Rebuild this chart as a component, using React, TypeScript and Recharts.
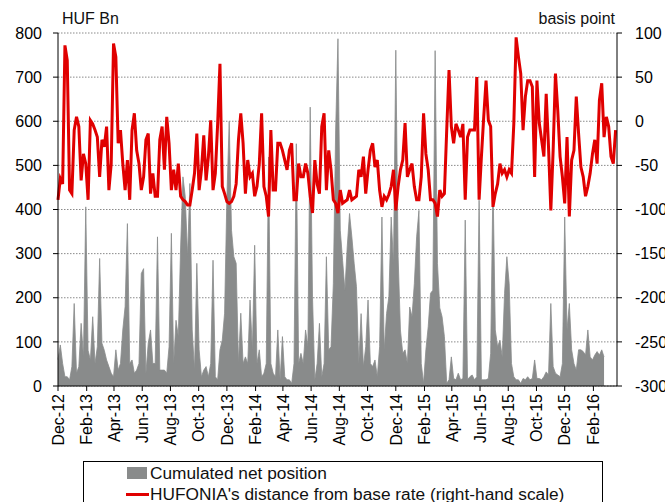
import React from 'react';
import { ComposedChart, Area, Line, XAxis, YAxis, CartesianGrid } from 'recharts';

// Observation spacing (days) starting 1 Dec 2012
const START_YEAR = 2012;
const START_MONTH = 11;
const STEP_DAYS = 5;

// Cumulated net position (HUF Bn)
const netPosition: number[] = [
  60, 93, 51, 21, 21, 14, 44, 187, 29, 44,
  142, 66, 406, 81, 59, 157, 51, 89, 289, 97,
  81, 59, 44, 29, 21, 82, 36, 51, 127, 180,
  368, 51, 59, 29, 36, 51, 255, 266, 29, 97,
  127, 51, 51, 338, 36, 36, 36, 29, 89, 346,
  51, 149, 112, 315, 474, 429, 293, 459, 127, 36,
  278, 82, 21, 36, 44, 21, 51, 285, 21, 14,
  82, 104, 165, 429, 600, 353, 293, 278, 51, 165,
  51, 66, 51, 195, 82, 319, 51, 82, 21, 29,
  51, 519, 51, 29, 21, 127, 14, 112, 21, 14,
  14, 6, 51, 549, 51, 74, 51, 127, 89, 632,
  202, 14, 51, 142, 21, 51, 293, 82, 89, 232,
  580, 787, 353, 285, 217, 315, 391, 338, 278, 225,
  51, 164, 44, 89, 195, 51, 44, 59, 21, 89,
  383, 82, 164, 202, 383, 278, 761, 293, 127, 74,
  82, 51, 179, 157, 232, 338, 398, 51, 6, 82,
  134, 210, 217, 760, 278, 177, 157, 112, 6, 14,
  66, 17, 14, 29, 14, 17, 376, 14, 21, 25,
  14, 21, 421, 14, 14, 14, 17, 74, 466, 127,
  89, 104, 66, 210, 293, 232, 51, 21, 14, 14,
  6, 17, 14, 21, 14, 17, 59, 17, 17, 14,
  21, 32, 25, 187, 44, 29, 25, 21, 51, 383,
  127, 187, 82, 51, 36, 82, 82, 78, 70, 127,
  66, 59, 70, 78, 70, 82, 66,
];

// HUFONIA's distance from base rate (basis points, right-hand scale)
const hufoniaSpread: number[] = [
  -89, -65, -71, 86, 69, -78, -82, -10, 5, -6,
  -67, -37, -48, -89, 1, -3, -10, -18, -63, -21,
  -29, -6, -78, -48, 88, 73, -25, -10, -48, -78,
  -44, -89, -10, 9, -33, -48, -78, -63, -21, -14,
  -82, -59, -85, -85, -21, -6, -55, 5, -25, -78,
  -55, -78, -48, -85, -89, -91, -95, -95, -78, -59,
  -14, -78, -55, -16, -67, -40, 1, -78, -59, -3,
  65, -74, -82, -91, -93, -91, -85, -71, -21, 9,
  -25, -82, -44, -63, -59, -85, -74, -48, 9, -74,
  -85, -108, -10, -78, -78, -25, -25, -33, -44, -55,
  -33, -25, -89, -89, -48, -63, -63, -48, -59, -85,
  -104, -44, -71, -82, -6, 9, -78, -33, -55, -89,
  -93, -104, -78, -93, -91, -89, -78, -89, -87, -85,
  -55, -63, -40, -82, -55, -33, -25, -52, -44, -78,
  -97, -85, -89, -83, -74, -55, -101, -74, -55, -44,
  -2, -63, -55, -48, -74, -89, -89, -63, 9, -37,
  -55, -89, -89, -93, -108, -78, -85, -82, -10, 58,
  -6, -25, -3, -10, -18, -3, -89, -18, -10, -10,
  -10, 50, -89, -40, 5, 46, 1, -6, -97, -82,
  -71, -48, -59, -55, -63, -55, -59, -3, 95, 73,
  54, -10, 28, 46, 46, 39, -63, 46, -2, -21,
  -40, 31, -29, -101, -33, 54, 12, -40, -63, -93,
  -18, -108, -44, -33, 28, -14, -52, -63, -85, -74,
  -59, -37, -21, -48, 24, 43, -18, 5, -6, -40,
  -48, -10,
];

const tickLabels = [
  'Dec-12', 'Feb-13', 'Apr-13', 'Jun-13', 'Aug-13', 'Oct-13', 'Dec-13',
  'Feb-14', 'Apr-14', 'Jun-14', 'Aug-14', 'Oct-14', 'Dec-14',
  'Feb-15', 'Apr-15', 'Jun-15', 'Aug-15', 'Oct-15', 'Dec-15', 'Feb-16',
];
const tickMonths: [number, number][] = [
  [2012, 11], [2013, 1], [2013, 3], [2013, 5], [2013, 7], [2013, 9], [2013, 11],
  [2014, 1], [2014, 3], [2014, 5], [2014, 7], [2014, 9], [2014, 11],
  [2015, 1], [2015, 3], [2015, 5], [2015, 7], [2015, 9], [2015, 11], [2016, 1],
];
const leftTicks = [0, 100, 200, 300, 400, 500, 600, 700, 800];
const rightTicks = [-300, -250, -200, -150, -100, -50, 0, 50, 100];

const DAY = 86400000;
const startMs = Date.UTC(START_YEAR, START_MONTH, 1);
const tickDays = tickMonths.map(([y, m]) => Math.round((Date.UTC(y, m, 1) - startMs) / DAY));
const labelByDay: Record<number, string> = {};
tickDays.forEach((d, i) => { labelByDay[d] = tickLabels[i]; });

const data = hufoniaSpread.map((s, i) => ({
  day: i * STEP_DAYS,
  net: i < netPosition.length ? netPosition[i] : null,
  spread: s,
}));

const FONT = '"Liberation Sans", Arial, sans-serif';
const GREY = '#898b8b';
const RED = '#e00000';

const XTick = (props: any) => {
  const { x, y, payload } = props;
  return (
    <text
      x={x}
      y={y}
      transform={`rotate(-90, ${x}, ${y})`}
      textAnchor="end"
      dy="0.36em"
      fontSize={16}
      fontFamily={FONT}
      fill="#000"
    >
      {labelByDay[payload.value]}
    </text>
  );
};

export default function App() {
  return (
    <div style={{ position: 'absolute', left: 0, top: 0, width: 665, height: 502, overflow: 'hidden', background: '#fff' }}>
      <ComposedChart
        width={665}
        height={502}
        data={data}
        margin={{ top: 33, right: 0, bottom: 46, left: 0 }}
      >
        <CartesianGrid
          yAxisId="left"
          vertical={false}
          stroke="#8a8a8a"
          strokeDasharray="1.5 1.5"
        />
        <XAxis
          dataKey="day"
          type="number"
          domain={[0, 1208]}
          ticks={tickDays}
          interval={0}
          height={70}
          tick={<XTick />}
          tickSize={5}
          tickMargin={3}
          axisLine={{ stroke: '#000' }}
          tickLine={{ stroke: '#000' }}
        />
        <YAxis
          yAxisId="left"
          domain={[0, 800]}
          ticks={leftTicks}
          interval={0}
          width={58}
          tickSize={5}
          tickMargin={11}
          tick={{ fontSize: 16, fontFamily: FONT, fill: '#000' }}
          axisLine={{ stroke: '#000' }}
          tickLine={{ stroke: '#000' }}
        />
        <YAxis
          yAxisId="right"
          orientation="right"
          domain={[-300, 100]}
          ticks={rightTicks}
          interval={0}
          width={48}
          tickSize={5}
          tickMargin={13}
          tick={{ fontSize: 16, fontFamily: FONT, fill: '#000', textAnchor: 'start' }}
          axisLine={{ stroke: '#000' }}
          tickLine={{ stroke: '#000' }}
        />
        <Area
          yAxisId="left"
          type="linear"
          dataKey="net"
          stroke={GREY}
          strokeWidth={0.8}
          fill={GREY}
          fillOpacity={1}
          isAnimationActive={false}
          connectNulls={false}
        />
        <Line
          yAxisId="right"
          type="linear"
          dataKey="spread"
          stroke={RED}
          strokeWidth={3}
          dot={false}
          activeDot={false}
          isAnimationActive={false}
        />
      </ComposedChart>
      <div style={{ position: 'absolute', left: 62, top: 9, fontFamily: FONT, fontSize: 16, color: '#111', lineHeight: '20px' }}>
        HUF Bn
      </div>
      <div style={{ position: 'absolute', right: 50, top: 9, fontFamily: FONT, fontSize: 16, color: '#111', lineHeight: '20px' }}>
        basis point
      </div>
      <div
        style={{
          position: 'absolute',
          left: 83,
          top: 461,
          width: 518,
          height: 60,
          border: '1px solid #000',
          fontFamily: FONT,
          fontSize: 17.3,
          color: '#111',
        }}
      >
        <div style={{ position: 'absolute', left: 43, top: 5, width: 20, height: 12, background: GREY }} />
        <div style={{ position: 'absolute', left: 66, top: 1, lineHeight: '20px', whiteSpace: 'nowrap' }}>
          Cumulated net position
        </div>
        <div style={{ position: 'absolute', left: 42, top: 31, width: 23, height: 3, background: RED }} />
        <div style={{ position: 'absolute', left: 66, top: 22, lineHeight: '20px', whiteSpace: 'nowrap' }}>
          HUFONIA's distance from base rate (right-hand scale)
        </div>
      </div>
    </div>
  );
}
